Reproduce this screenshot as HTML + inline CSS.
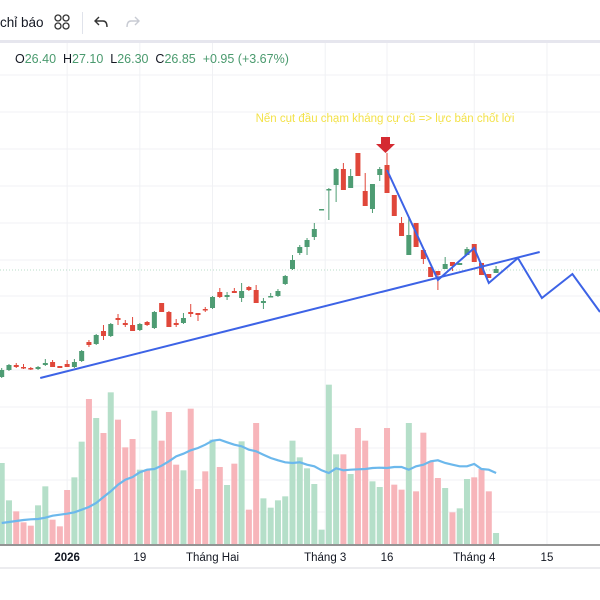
<!DOCTYPE html>
<html><head><meta charset="utf-8">
<style>
html,body{margin:0;padding:0;background:#fff;width:600px;height:600px;overflow:hidden;font-family:"Liberation Sans","DejaVu Sans",sans-serif;}
#wrap{position:relative;width:600px;height:600px;}
.tb{position:absolute;top:0;left:0;width:600px;height:40px;background:#fff;border-bottom:3px solid #e6e6ee;}
.t{position:absolute;white-space:nowrap;}
</style></head>
<body>
<div id="wrap">
  <div class="tb">
    <span class="t" style="left:0;top:15px;font-size:13.5px;color:#131722;">chỉ báo</span>
    <svg class="t" style="left:54px;top:14px" width="16" height="16"><circle cx="4" cy="4" r="3" fill="none" stroke="#333" stroke-width="1.3"/><circle cx="12" cy="4" r="3" fill="none" stroke="#333" stroke-width="1.3"/><circle cx="4" cy="12" r="3" fill="none" stroke="#333" stroke-width="1.3"/><circle cx="12" cy="12" r="3" fill="none" stroke="#333" stroke-width="1.3"/></svg>
    <div class="t" style="left:82px;top:12px;width:1px;height:22px;background:#e0e3eb"></div>
    <svg class="t" style="left:94px;top:16px" width="14" height="12"><path d="M5 1 L1 5 L5 9 M1 5 H9 Q13 5 13 11" fill="none" stroke="#333" stroke-width="1.4"/></svg>
    <svg class="t" style="left:126px;top:16px" width="14" height="12"><path d="M9 1 L13 5 L9 9 M13 5 H5 Q1 5 1 11" fill="none" stroke="#c8cbd3" stroke-width="1.4"/></svg>
  </div>
  <svg id="chart" style="position:absolute;left:0;top:43px" width="600" height="557" viewBox="0 43 600 557"></svg>
  <div class="t" style="left:15px;top:52px;font-size:12.5px;color:#131722;">O<span style="color:#4a9a6e">26.40</span>&nbsp; H<span style="color:#4a9a6e">27.10</span>&nbsp; L<span style="color:#4a9a6e">26.30</span>&nbsp; C<span style="color:#4a9a6e">26.85</span>&nbsp; <span style="color:#4a9a6e">+0.95 (+3.67%)</span></div>
</div>
<script>
const opens=[25.78,25.85,25.90,25.88,25.87,25.86,25.90,25.93,25.89,25.91,25.88,25.94,26.13,26.11,26.24,26.19,26.37,26.32,26.30,26.25,26.33,26.27,26.52,26.43,26.32,26.32,26.43,26.42,26.46,26.47,26.63,26.58,26.64,26.57,26.68,26.65,26.52,26.58,26.59,26.71,26.86,27.02,27.08,27.18,27.45,27.65,27.70,27.86,27.67,28.02,27.64,27.46,27.80,27.90,27.60,27.32,27.00,27.32,27.05,26.88,26.84,26.86,26.93,26.90,27.00,27.11,26.92,26.81,26.82];
const highs=[25.87,25.91,25.92,25.91,25.88,25.89,25.96,25.95,25.89,25.95,25.96,26.05,26.15,26.21,26.30,26.32,26.41,26.35,26.38,26.32,26.34,26.44,26.52,26.44,26.36,26.42,26.51,26.42,26.48,26.59,26.67,26.63,26.67,26.72,26.69,26.70,26.57,26.62,26.66,26.80,27.00,27.10,27.17,27.32,27.46,27.67,27.87,27.92,27.86,28.02,27.82,27.71,27.88,28.02,27.60,27.38,27.38,27.32,27.05,26.88,26.84,26.98,26.93,26.92,27.08,27.11,26.92,26.81,26.89];
const lows=[25.77,25.84,25.87,25.86,25.85,25.85,25.89,25.88,25.87,25.88,25.87,25.93,26.08,26.10,26.15,26.18,26.30,26.28,26.24,26.24,26.29,26.26,26.43,26.28,26.28,26.31,26.38,26.34,26.43,26.46,26.57,26.55,26.62,26.53,26.64,26.52,26.46,26.58,26.58,26.70,26.85,27.00,27.00,27.15,27.45,27.35,27.53,27.65,27.67,27.79,27.49,27.42,27.74,27.62,27.39,27.19,27.00,27.08,26.91,26.78,26.65,26.86,26.84,26.90,27.00,26.93,26.80,26.77,26.82];
const closes=[25.85,25.90,25.88,25.87,25.86,25.88,25.92,25.88,25.87,25.88,25.93,26.04,26.10,26.20,26.19,26.31,26.35,26.30,26.24,26.31,26.30,26.43,26.43,26.28,26.30,26.37,26.41,26.40,26.45,26.58,26.58,26.60,26.62,26.64,26.65,26.52,26.54,26.59,26.64,26.79,26.95,27.08,27.15,27.26,27.46,27.66,27.86,27.65,27.79,27.79,27.49,27.71,27.86,27.62,27.39,27.19,27.20,27.08,26.96,26.78,26.80,26.91,26.89,26.92,27.06,26.93,26.80,26.77,26.86];
const volumes=[243,131,98,65,55,116,173,73,53,162,200,307,435,378,333,455,373,290,315,223,223,400,310,396,238,221,406,165,218,313,231,177,241,308,103,363,137,109,131,143,310,260,227,180,43,478,269,269,210,348,310,188,171,348,178,163,363,158,334,248,198,168,95,107,195,200,225,158,33];
const volMA=[63,66,69,72,74,75,79,85,88,91,95,103,111,123,141,158,178,193,201,215,223,225,235,248,263,271,281,288,298,310,313,305,298,293,283,278,268,258,251,245,243,245,238,233,221,213,227,221,223,224,225,228,229,228,231,231,223,233,238,248,251,243,238,233,233,240,225,223,213];
const xLabels=["2026","19","Tháng Hai","Tháng 3","16","Tháng 4","15"];
const xLabelIdx=[9,19,29,44.5,53,65,75];
const trendLine=[[5.3,25.77],[74,27.03]];
const zigzag=[[53,27.85],[60,26.75],[65,27.07],[67,26.72],[71,26.97],[74.3,26.57],[78.5,26.81],[82.3,26.43]];
const lastClose=26.85;

const NS="http://www.w3.org/2000/svg";
const svg=document.getElementById('chart');
const X=i=>1.7+i*7.27;
const Y=p=>270-(p-26.85)*100;
const VY=v=>544-v/3;
function mk(tag,attrs,parent){const e=document.createElementNS(NS,tag);for(const k in attrs)e.setAttribute(k,attrs[k]);(parent||svg).appendChild(e);return e;}

// grid
const grid=mk('g',{});


[75,112,149,186,223,260,296,333,370,407,448,480,512].forEach(y=>{mk('line',{x1:0,x2:600,y1:y,y2:y,stroke:'#f0f1f4','stroke-width':1},grid);});
xLabelIdx.forEach(i=>{const x=X(i);mk('line',{x1:x,x2:x,y1:43,y2:544,stroke:'#f0f1f4','stroke-width':1},grid);});

// volume
const vg=mk('g',{});


volumes.forEach((v,i)=>{
  const up=closes[i]>=opens[i];
  const r=mk('rect',{x:X(i)-3,y:VY(v),width:6,height:544-VY(v),fill:up?'#b5dfc9':'#f7b5ba'},vg);
  
  
});
const maPts=volMA.map((v,i)=>X(i).toFixed(1)+','+VY(v).toFixed(1)).join(' ');
const ma=mk('polyline',{points:maPts,fill:'none',stroke:'#6cb8ec','stroke-width':2.2});



// price line
const pl=mk('line',{x1:0,x2:600,y1:Y(lastClose),y2:Y(lastClose),stroke:'#b9dcc8','stroke-width':1,'stroke-dasharray':'1 2'});



// candles
const cg=mk('g',{});


opens.forEach((o,i)=>{
  const c=closes[i],up=c>=o,col=up?'#4e9c73':'#e0473a',x=X(i);
  const g=mk('g',{},cg);
  
  
  mk('line',{x1:x,x2:x,y1:Y(highs[i]),y2:Y(lows[i]),stroke:col,'stroke-width':1},g);
  const t=Math.min(Y(o),Y(c)),h=Math.max(1.5,Math.abs(Y(o)-Y(c)));
  mk('rect',{x:x-2.5,y:t,width:5,height:h,fill:col},g);
});

// drawings
const tl=mk('line',{x1:X(trendLine[0][0]),y1:Y(trendLine[0][1]),x2:X(trendLine[1][0]),y2:Y(trendLine[1][1]),stroke:'#3d63e6','stroke-width':2});


const zz=mk('polyline',{points:zigzag.map(p=>X(p[0]).toFixed(1)+','+Y(p[1]).toFixed(1)).join(' '),fill:'none',stroke:'#3d63e6','stroke-width':2});


const ar=mk('path',{d:'M381 137 h9 v7 h5 l-9.5 9 l-9.5 -9 h5 z',fill:'#d42a31'});


const note=mk('text',{x:385,y:122,'text-anchor':'middle','font-size':11.5,fill:'#f3e24a','font-family':'Liberation Sans, sans-serif'});
note.textContent='Nến cụt đầu chạm kháng cự cũ => lực bán chốt lời';



// x axis
const ax=mk('g',{});


mk('rect',{x:0,y:545,width:600,height:55,fill:'#fff'},ax);
mk('line',{x1:0,x2:600,y1:545,y2:545,stroke:'#555','stroke-width':1.3},ax);
mk('line',{x1:0,x2:600,y1:568,y2:568,stroke:'#e6e6ea','stroke-width':1.5},ax);
xLabels.forEach((l,i)=>{
  const t=mk('text',{x:X(xLabelIdx[i]),y:561,'text-anchor':'middle','font-size':11.5,fill:'#131722','font-weight':i===0?'bold':'normal'},ax);
  t.textContent=l;
  
  
});
</script>
</body></html>
